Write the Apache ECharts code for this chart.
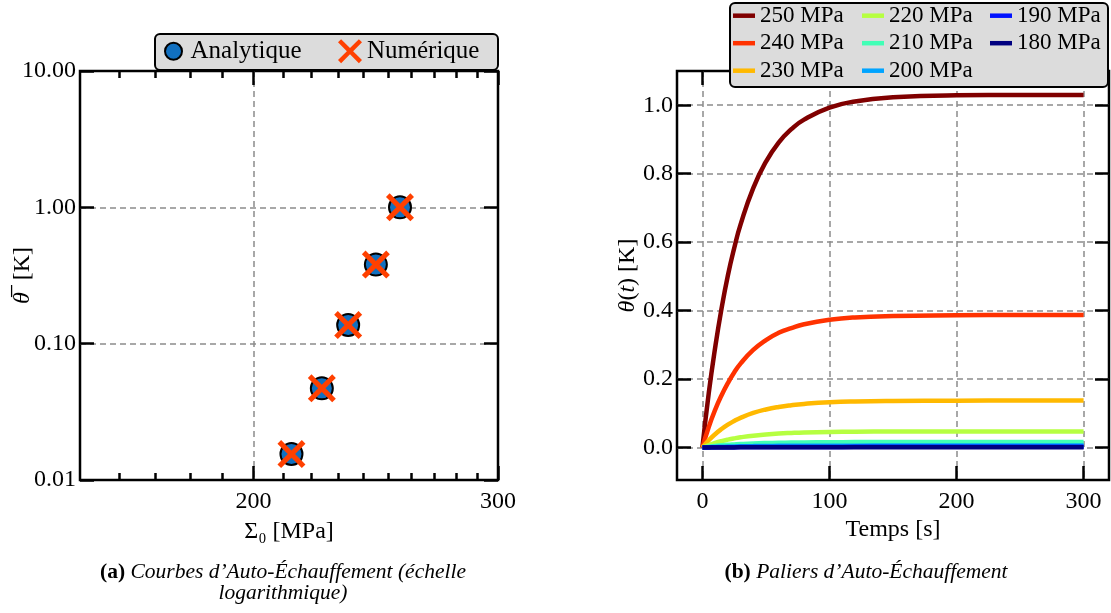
<!DOCTYPE html>
<html><head><meta charset="utf-8">
<script src="https://cdn.jsdelivr.net/npm/echarts@6/dist/echarts.min.js"></script>
<style>html,body{margin:0;padding:0;background:#fff}#c{width:1111px;height:613px}</style>
</head><body><div id="c"></div>
<script>
// ---- Data (left: log-log scatter) ----
const sigmaAnalytique = [213, 224, 234, 245, 255];
const thetaAnalytique = [0.0155, 0.047, 0.137, 0.38, 1.0];
const sigmaNumerique = [213, 224, 234, 245, 255];
const thetaNumerique = [0.0155, 0.047, 0.137, 0.38, 1.0];
const xMajorLog = [200, 300];
const xMinorLog = [160, 170, 180, 190, 210, 220, 230, 240, 250, 260, 270, 280, 290];
const yTicksLog = [0.01, 0.1, 1, 10];

// ---- Data (right: heating plateaus) ----
const paliers = ['250 MPa', '240 MPa', '230 MPa', '220 MPa', '210 MPa', '200 MPa', '190 MPa', '180 MPa'];
const temps = [0, 5, 10, 15, 20, 25, 30, 40, 50, 60, 70, 80, 100, 120, 150, 200, 250, 300];
const theta250 = [0, 0.159, 0.291, 0.405, 0.502, 0.582, 0.651, 0.758, 0.835, 0.891, 0.930, 0.958, 0.993, 1.011, 1.023, 1.029, 1.030, 1.030];
const theta240 = [0, 0.060, 0.110, 0.152, 0.188, 0.219, 0.245, 0.285, 0.314, 0.335, 0.349, 0.360, 0.373, 0.380, 0.384, 0.386, 0.387, 0.387];
const theta230 = [0, 0.0211, 0.0388, 0.0538, 0.0667, 0.0774, 0.0866, 0.1008, 0.1111, 0.1185, 0.1237, 0.1274, 0.1321, 0.1345, 0.1360, 0.1369, 0.137, 0.137];
const theta220 = [0, 0.0072, 0.0133, 0.0185, 0.0229, 0.0266, 0.0297, 0.0346, 0.0381, 0.0407, 0.0424, 0.0437, 0.0453, 0.0462, 0.0467, 0.047, 0.047, 0.047];
const theta210 = [0, 0.0025, 0.0045, 0.0063, 0.0078, 0.009, 0.0101, 0.0118, 0.013, 0.0138, 0.0144, 0.0149, 0.0154, 0.0157, 0.0159, 0.016, 0.016, 0.016];
const theta200 = [0, 0.0008, 0.0016, 0.0022, 0.0027, 0.0031, 0.0035, 0.004, 0.0045, 0.0048, 0.005, 0.0051, 0.0053, 0.0054, 0.0055, 0.0055, 0.0055, 0.0055];
const theta190 = [0, 0.0003, 0.0005, 0.0007, 0.0009, 0.001, 0.0011, 0.0013, 0.0015, 0.0016, 0.0016, 0.0017, 0.0017, 0.0018, 0.0018, 0.0018, 0.0018, 0.0018];
const theta180 = [0, 0.0001, 0.0002, 0.0002, 0.0003, 0.0003, 0.0004, 0.0004, 0.0005, 0.0005, 0.0005, 0.0006, 0.0006, 0.0006, 0.0006, 0.0006, 0.0006, 0.0006];
const paliersColors = ['#800000', '#ff3200', '#ffb900', '#b6ff41', '#41ffb6', '#00a4ff', '#0012ff', '#000080'];
const tTicks = [0, 100, 200, 300];
const thetaTicks = [0, 0.2, 0.4, 0.6, 0.8, 1.0];

const thetaSeries = [theta250, theta240, theta230, theta220, theta210, theta200, theta190, theta180];

const FONT = 'Liberation Serif';
const gridLine = { color: '#8c8c8c', width: 1.5, type: [6, 4] };
const tickLine = { color: '#000', width: 2.5 };
const labelStyle = { fontFamily: FONT, fontSize: 24, color: '#000' };
const X_PATH = 'path://M0,1.3L1.3,0L5,3.7L8.7,0L10,1.3L6.3,5L10,8.7L8.7,10L5,6.3L1.3,10L0,8.7L3.7,5Z';

function tickOnly(base, vals, len) {
  return Object.assign({
    axisLine: { show: false, onZero: false },
    axisTick: { show: true, inside: true, length: len, lineStyle: tickLine, customValues: vals },
    axisLabel: { show: false },
    splitLine: { show: false }
  }, base);
}

const chart = echarts.init(document.getElementById('c'), null, { renderer: 'canvas' });

const legendText = { fontFamily: FONT, fontSize: 23, color: '#000', lineHeight: 23 };
const option = {
  animation: false,
  backgroundColor: '#fff',
  grid: [
    { left: 80, top: 71, width: 418, height: 409, show: true, borderColor: '#000', borderWidth: 2.5,
      backgroundColor: 'transparent', containLabel: false, outerBoundsMode: 'none' },
    { left: 677, top: 71, width: 432, height: 409, show: true, borderColor: '#000', borderWidth: 2.5,
      backgroundColor: 'transparent', containLabel: false, outerBoundsMode: 'none' }
  ],
  xAxis: [
    {
      type: 'log', logBase: 10, gridIndex: 0, position: 'bottom', min: 150, max: 300,
      axisLine: { show: false, onZero: false },
      axisTick: { show: true, inside: true, length: 14, lineStyle: tickLine, customValues: xMajorLog },
      axisLabel: Object.assign({ show: true, margin: 10, customValues: xMajorLog, showMinLabel: true, showMaxLabel: true,
        formatter: v => String(Math.round(v)) }, labelStyle),
      splitLine: { show: true, showMinLine: true, showMaxLine: false, lineStyle: gridLine },
      name: 'Σ₀ [MPa]', nameLocation: 'middle', nameGap: 40, nameMoveOverlap: false,
      nameTextStyle: { fontFamily: FONT, fontSize: 24, color: '#000' }
    },
    tickOnly({ type: 'log', logBase: 10, gridIndex: 0, position: 'top', min: 150, max: 300 }, xMajorLog, 14),
    tickOnly({ type: 'log', logBase: 10, gridIndex: 0, position: 'bottom', min: 150, max: 300 }, xMinorLog, 7),
    tickOnly({ type: 'log', logBase: 10, gridIndex: 0, position: 'top', min: 150, max: 300 }, xMinorLog, 7),
    {
      type: 'value', gridIndex: 1, position: 'bottom', min: -20, max: 320,
      axisLine: { show: false, onZero: false },
      axisTick: { show: true, inside: true, length: 14, lineStyle: tickLine, customValues: tTicks },
      axisLabel: Object.assign({ show: true, margin: 10, customValues: tTicks, showMinLabel: true, showMaxLabel: true }, labelStyle),
      splitLine: { show: true, showMinLine: true, showMaxLine: true, lineStyle: gridLine },
      name: 'Temps [s]', nameLocation: 'middle', nameGap: 38, nameMoveOverlap: false,
      nameTextStyle: { fontFamily: FONT, fontSize: 24, color: '#000' }
    },
    tickOnly({ type: 'value', gridIndex: 1, position: 'top', min: -20, max: 320 }, tTicks, 14)
  ],
  yAxis: [
    {
      type: 'log', logBase: 10, gridIndex: 0, position: 'left', min: 0.01, max: 10,
      axisLine: { show: false, onZero: false },
      axisTick: { show: true, inside: true, length: 14, lineStyle: tickLine, customValues: yTicksLog },
      axisLabel: Object.assign({ show: true, margin: 4, customValues: yTicksLog, showMinLabel: true, showMaxLabel: true,
        formatter: v => Number(v).toFixed(2) }, labelStyle),
      splitLine: { show: true, showMinLine: false, showMaxLine: false, lineStyle: gridLine },
      name: '{i|θ̅}  [K]', nameLocation: 'middle', nameGap: 45, nameMoveOverlap: false,
      nameTextStyle: { fontFamily: FONT, fontSize: 24, color: '#000',
        rich: { i: { fontFamily: FONT, fontSize: 24, fontStyle: 'italic', color: '#000' } } }
    },
    tickOnly({ type: 'log', logBase: 10, gridIndex: 0, position: 'right', min: 0.01, max: 10 }, yTicksLog, 14),
    {
      type: 'value', gridIndex: 1, position: 'left', min: -0.095, max: 1.1,
      axisLine: { show: false, onZero: false },
      axisTick: { show: true, inside: true, length: 14, lineStyle: tickLine, customValues: thetaTicks },
      axisLabel: Object.assign({ show: true, margin: 4, customValues: thetaTicks,
        formatter: v => Number(v).toFixed(1) }, labelStyle),
      splitLine: { show: true, showMinLine: true, showMaxLine: true, lineStyle: gridLine },
      name: '{i|θ}({i|t}) [K]', nameLocation: 'middle', nameGap: 37, nameMoveOverlap: false,
      nameTextStyle: { fontFamily: FONT, fontSize: 24, color: '#000',
        rich: { i: { fontFamily: FONT, fontSize: 24, fontStyle: 'italic', color: '#000' } } }
    },
    tickOnly({ type: 'value', gridIndex: 1, position: 'right', min: -0.095, max: 1.1 }, thetaTicks, 14)
  ],
  legend: [
    { data: ['Analytique'], left: 164, top: 38.7, padding: 0, itemWidth: 24, itemHeight: 17, selectedMode: false, z: 60,
      textStyle: { fontFamily: FONT, fontSize: 25, color: '#000', lineHeight: 24 } },
    { data: ['Numérique'], left: 338, top: 38.7, padding: 0, itemWidth: 24, itemHeight: 24, selectedMode: false, z: 60,
      textStyle: { fontFamily: FONT, fontSize: 25, color: '#000', lineHeight: 24 } },
    { data: paliers.slice(0, 3), orient: 'vertical', left: 733, top: 4.2, padding: 0, icon: 'rect', itemWidth: 22, itemHeight: 4.5,
      itemGap: 4.5, selectedMode: false, z: 60, textStyle: legendText },
    { data: paliers.slice(3, 6), orient: 'vertical', left: 862, top: 4.2, padding: 0, icon: 'rect', itemWidth: 22, itemHeight: 4.5,
      itemGap: 4.5, selectedMode: false, z: 60, textStyle: legendText },
    { data: paliers.slice(6, 8), orient: 'vertical', left: 990, top: 4.2, padding: 0, icon: 'rect', itemWidth: 22, itemHeight: 4.5,
      itemGap: 4.5, selectedMode: false, z: 60, textStyle: legendText }
  ],
  graphic: [
    { type: 'rect', z: 50, shape: { x: 155, y: 34, width: 343, height: 36, r: 5 },
      style: { fill: '#dcdcdc', stroke: '#000', lineWidth: 2 } },
    { type: 'rect', z: 50, shape: { x: 730, y: 3, width: 378, height: 84, r: 5 },
      style: { fill: '#dcdcdc', stroke: '#000', lineWidth: 2 } },
    { type: 'text', z: 50, x: 283, y: 583,
      style: { text: '{b|(a)} {i|Courbes d’Auto-Échauffement (échelle}\n{i|logarithmique)}',
        align: 'center', verticalAlign: 'middle', textAlign: 'center', textVerticalAlign: 'middle',
        fill: '#000', font: '21.5px "Liberation Serif"', lineHeight: 21,
        rich: { b: { fontFamily: FONT, fontSize: 21.5, fontWeight: 'bold', lineHeight: 21, fill: '#000' },
                i: { fontFamily: FONT, fontSize: 21.5, fontStyle: 'italic', lineHeight: 21, fill: '#000' } } } },
    { type: 'text', z: 50, x: 866, y: 572,
      style: { text: '{b|(b)} {i|Paliers d’Auto-Échauffement}',
        align: 'center', verticalAlign: 'middle', textAlign: 'center', textVerticalAlign: 'middle',
        fill: '#000', font: '21.5px "Liberation Serif"',
        rich: { b: { fontFamily: FONT, fontSize: 21.5, fontWeight: 'bold', fill: '#000' },
                i: { fontFamily: FONT, fontSize: 21.5, fontStyle: 'italic', fill: '#000' } } } }
  ],
  series: [
    { type: 'scatter', name: 'Analytique', xAxisIndex: 0, yAxisIndex: 0, symbol: 'circle', symbolSize: 22, z: 3,
      itemStyle: { color: '#1170c0', borderColor: '#000', borderWidth: 2, opacity: 1 },
      data: sigmaAnalytique.map((s, i) => [s, thetaAnalytique[i]]) },
    { type: 'scatter', name: 'Numérique', xAxisIndex: 0, yAxisIndex: 0, symbol: X_PATH, symbolSize: 28, z: 4,
      itemStyle: { color: '#ff4000', opacity: 1 },
      data: sigmaNumerique.map((s, i) => [s, thetaNumerique[i]]) }
  ].concat(paliers.map((name, k) => ({
    type: 'line', name: name, xAxisIndex: 4, yAxisIndex: 2, symbol: 'none', showSymbol: false,
    smooth: true, z: 3 + k * 0.01,
    lineStyle: { color: paliersColors[k], width: 4.5 }, itemStyle: { color: paliersColors[k] },
    data: temps.map((t, i) => [t, thetaSeries[k][i]])
  })))
};
chart.setOption(option);
</script></body></html>
